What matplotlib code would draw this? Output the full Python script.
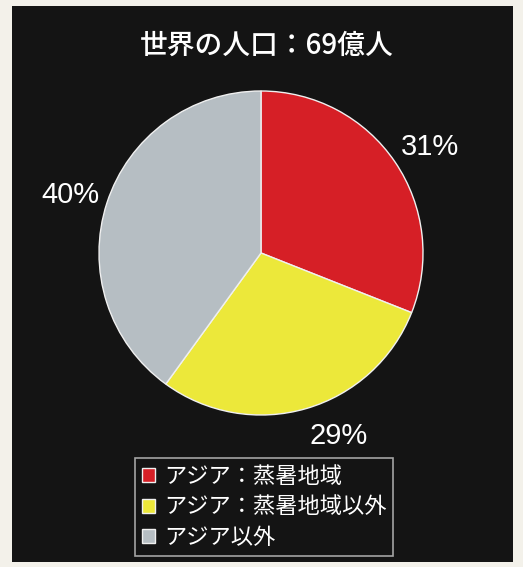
import numpy as np
import matplotlib
matplotlib.use('Agg')
import matplotlib.pyplot as plt
from matplotlib.patches import Rectangle

plt.rcParams['font.family'] = ['Noto Sans CJK JP', 'DejaVu Sans']

# データ
titulo = '世界の人口：69億人'
etiquetas = ['アジア：蒸暑地域', 'アジア：蒸暑地域以外', 'アジア以外']
valores = [31, 29, 40]
colores = ['#d61f26', '#ece83a', '#b6bec3']

# label placement (angle in degrees, distance in radius units)
angulos_etiqueta = [32, -67, 163]
dist_etiqueta = 1.23

W, H = 523, 567
fig = plt.figure(figsize=(W / 100, H / 100), dpi=100)
fig.patch.set_facecolor('#f3f1ea')

# black panel
fig.patches.append(Rectangle((12 / W, 1 - 562 / H), (513 - 12) / W, (562 - 6) / H,
                             transform=fig.transFigure, facecolor='#141414',
                             edgecolor='none', zorder=-10))

# pie axes: center (261, 253), radius 162 px
cx, cy, r = 261, 253, 162
ax = fig.add_axes([(cx - r) / W, 1 - (cy + r) / H, 2 * r / W, 2 * r / H])
ax.set_facecolor('none')
wedges, _ = ax.pie(
    valores,
    colors=colores,
    startangle=90,
    counterclock=False,
    wedgeprops=dict(edgecolor='#f0f0f0', linewidth=1.0),
)
ax.set_xlim(-1, 1)
ax.set_ylim(-1, 1)
ax.set_aspect('equal')
ax.axis('off')

for v, ang in zip(valores, angulos_etiqueta):
    a = np.deg2rad(ang)
    ax.text(dist_etiqueta * np.cos(a), dist_etiqueta * np.sin(a), f'{v}%',
            ha='center', va='center', color='white', fontsize=21,
            family=['Liberation Sans', 'DejaVu Sans'])

fig.text(267 / W, 1 - 45 / H, titulo, ha='center', va='center',
         color='white', fontsize=20, fontweight='medium')

leg = ax.legend(
    wedges, etiquetas,
    loc='upper left',
    bbox_to_anchor=(135 / W, 1 - 458 / H),
    bbox_transform=fig.transFigure,
    frameon=True, fancybox=False,
    facecolor='#141414', edgecolor='#c8c8c8',
    fontsize=16, labelcolor='white',
    handlelength=0.6, handleheight=0.6, handletextpad=0.4,
    labelspacing=0.35, borderpad=0.3, borderaxespad=0,
)
leg.get_frame().set_linewidth(1.2)

fig.savefig('out.png', dpi=100, facecolor=fig.get_facecolor())
